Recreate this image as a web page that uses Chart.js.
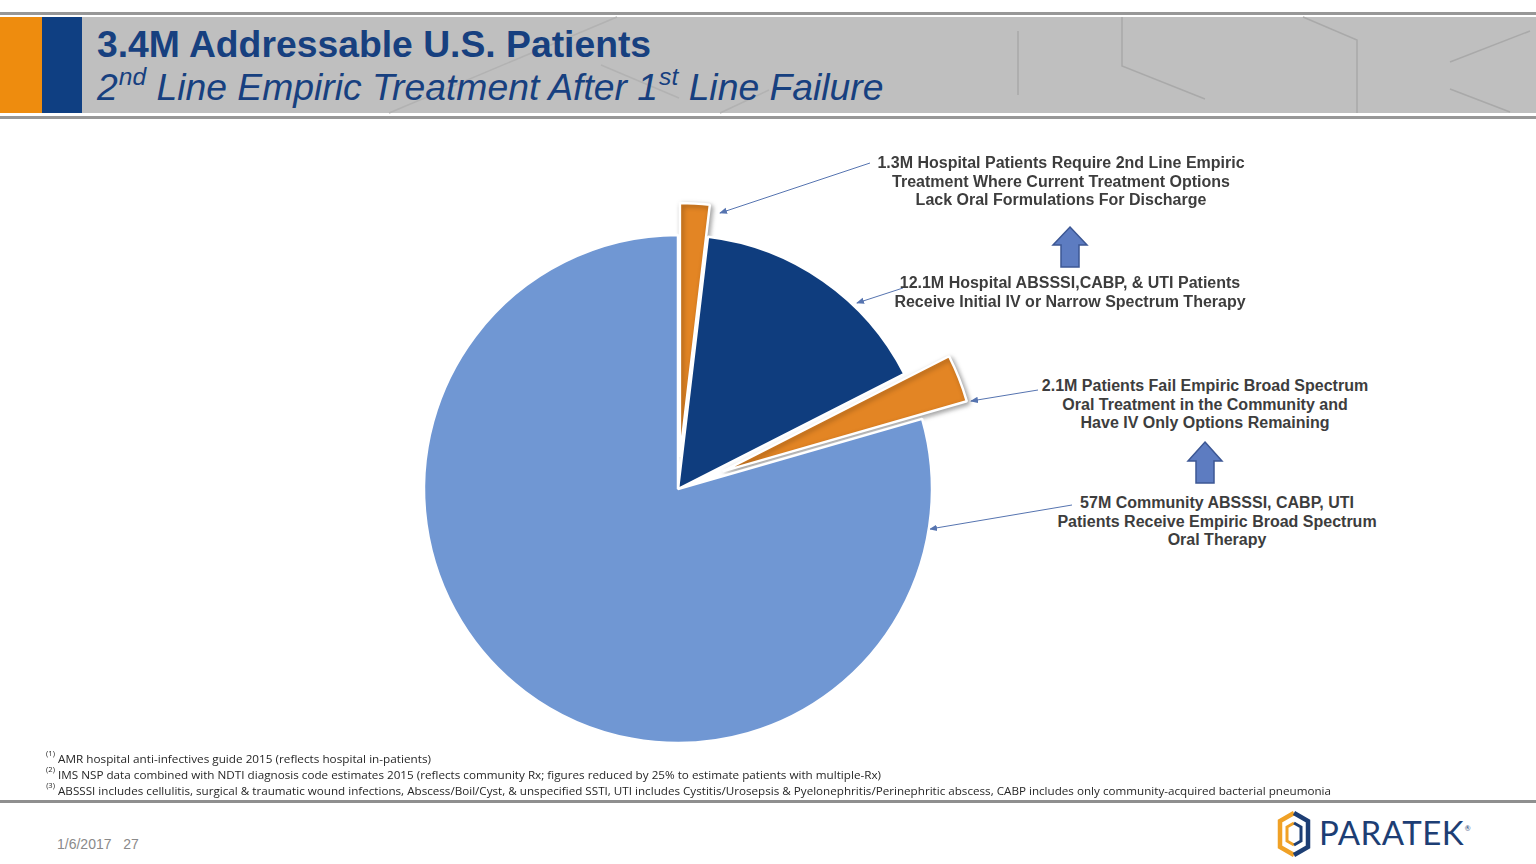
<!DOCTYPE html>
<html>
<head>
<meta charset="utf-8">
<script src="https://cdn.jsdelivr.net/npm/chart.js@4.4.1/dist/chart.umd.min.js"></script>
<style>
  html, body { margin:0; padding:0; width:1536px; height:864px; background:#fff; overflow:hidden; }
  body { position:relative; font-family:"Liberation Sans", Arial, sans-serif; }
  #deco { position:absolute; left:0; top:0; }
  #pieWrap { position:absolute; left:328px; top:139px; width:700px; height:700px; }
  .title { position:absolute; left:97px; color:#17407F; white-space:nowrap; }
  .t1 { top:22px; font-size:37.3px; font-weight:bold; line-height:44px; }
  .t2 { top:65px; font-size:37.3px; font-style:italic; line-height:44px; }
  .t2 sup { font-size:0.66em; vertical-align:0; position:relative; top:-0.62em; margin-left:1px; }
  .lbl { position:absolute; font-size:16px; font-weight:bold; color:#3D3D3D; text-align:center; line-height:18.6px; white-space:nowrap; transform:translateX(-50%); }
  .fn { position:absolute; left:58px; font-family:"Open Sans", sans-serif; font-size:10.8px; color:#262626; white-space:nowrap; transform-origin:0 0; }
  .fn sup { position:absolute; left:-11px; top:-2px; font-size:7px; }
  .foot { position:absolute; left:57px; top:836px; font-size:14px; color:#8A8A8A; white-space:pre; }
  .logo { position:absolute; left:1319px; top:813px; font-family:"Lato","Liberation Sans",sans-serif; font-size:33px; color:#1D3E74; letter-spacing:0.5px; line-height:38px; }
  .logo small { position:absolute; right:-7px; top:-4px; font-size:7px; }
</style>
</head>
<body>
<svg id="deco" width="1536" height="864">
  <rect x="0" y="12" width="1536" height="3" fill="#979797"/>
  <rect x="0" y="17" width="1536" height="96" fill="#BFBFBF"/>
  <rect x="0" y="116" width="1536" height="3" fill="#979797"/>
  <rect x="0" y="17" width="42" height="96" fill="#EE8C0E"/>
  <rect x="42" y="17" width="40" height="96" fill="#0F3F82"/>
  <g stroke="#A9A9A9" stroke-width="1.5" fill="none">
    <line x1="617" y1="17" x2="389" y2="113" stroke="#B2B2B2"/>
    <line x1="601" y1="65" x2="679" y2="98" stroke="#B2B2B2"/>
    <line x1="769" y1="90" x2="720" y2="113" stroke="#B2B2B2"/>
    <line x1="1018" y1="31" x2="1018" y2="95"/>
    <polyline points="1122,17 1122,66 1205,99"/>
    <polyline points="1303,17 1357,40 1357,113"/>
    <line x1="1450" y1="62" x2="1530" y2="31"/>
    <line x1="1450" y1="89" x2="1510" y2="112"/>
  </g>
  <defs>
    <marker id="ah" markerWidth="8" markerHeight="8" refX="7" refY="4" orient="auto" markerUnits="userSpaceOnUse">
      <path d="M0,0.8 L8,4 L0,7.2 Z" fill="#5674B0"/>
    </marker>
  </defs>
  <g stroke="#5674B0" stroke-width="1" fill="none">
    <line x1="870" y1="163" x2="720" y2="213" marker-end="url(#ah)"/>
    <line x1="903" y1="288" x2="857" y2="303" marker-end="url(#ah)"/>
    <line x1="1038" y1="390" x2="971" y2="401" marker-end="url(#ah)"/>
    <line x1="1072" y1="505" x2="930" y2="529" marker-end="url(#ah)"/>
  </g>
  <g fill="#5D7CC1" stroke="#3C5794" stroke-width="1.5">
    <path d="M1070,227 L1087,245 L1079,245 L1079,267 L1061,267 L1061,245 L1053,245 Z"/>
    <path d="M1205,442 L1222,461 L1214,461 L1214,483 L1196,483 L1196,461 L1188,461 Z"/>
  </g>
  <rect x="0" y="800" width="1536" height="3" fill="#8F8F8F"/>
  <g fill="none" stroke-width="4.5" stroke-linejoin="miter">
    <path d="M1294,813 L1280,821 L1280,847 L1294,855" stroke="#F0A126"/>
    <path d="M1294,813 L1308,821 L1308,847 L1294,855" stroke="#1D3E74"/>
    <path d="M1294,823 L1287,827 L1287,841 L1294,845" stroke="#F0A126" stroke-width="3"/>
    <path d="M1294,823 L1301,827 L1301,841 L1294,845" stroke="#1D3E74" stroke-width="3"/>
  </g>
</svg>

<div class="title t1">3.4M Addressable U.S. Patients</div>
<div class="title t2">2<sup>nd</sup> Line Empiric Treatment After 1<sup>st</sup> Line Failure</div>

<div id="pieWrap"><canvas id="pie" width="700" height="700"></canvas></div>

<div class="lbl" style="left:1061px; top:154px;">1.3M Hospital Patients Require 2nd Line Empiric<br>Treatment Where Current Treatment Options<br>Lack Oral Formulations For Discharge</div>
<div class="lbl" style="left:1070px; top:274px;">12.1M Hospital ABSSSI,CABP, &amp; UTI Patients<br>Receive Initial IV or Narrow Spectrum Therapy</div>
<div class="lbl" style="left:1205px; top:377px;">2.1M Patients Fail Empiric Broad Spectrum<br>Oral Treatment in the Community and<br>Have IV Only Options Remaining</div>
<div class="lbl" style="left:1217px; top:494px;">57M Community ABSSSI, CABP, UTI<br>Patients Receive Empiric Broad Spectrum<br>Oral Therapy</div>

<div class="fn" id="fn1" style="top:751px;"><sup>(1)</sup>AMR hospital anti-infectives guide 2015 (reflects hospital in-patients)</div>
<div class="fn" id="fn2" style="top:767px;"><sup>(2)</sup>IMS NSP data combined with NDTI diagnosis code estimates 2015 (reflects community Rx; figures reduced by 25% to estimate patients with multiple-Rx)</div>
<div class="fn" id="fn3" style="top:783px;"><sup>(3)</sup>ABSSSI includes cellulitis, surgical &amp; traumatic wound infections, Abscess/Boil/Cyst, &amp; unspecified SSTI, UTI includes Cystitis/Urosepsis &amp; Pyelonephritis/Perinephritic abscess, CABP includes only community-acquired bacterial pneumonia</div>

<div class="foot">1/6/2017   27</div>
<div class="logo">PARATEK<small>®</small></div>

<script>
// ---- data (millions of patients), slices clockwise from 12 o'clock ----
// 1.3M failing hospital patients are a subset of the 12.1M hospital patients,
// 2.1M failing community patients a subset of the 57M community patients.
const categories = [
  'Hospital: require 2nd line empiric treatment',
  'Hospital: other ABSSSI, CABP & UTI patients',
  'Community: fail empiric broad spectrum oral treatment',
  'Community: other ABSSSI, CABP, UTI patients'
];
const patientsMillions = [1.3, 10.8, 2.1, 54.9];
const sliceColors = ['#E38524', '#0F3D7E', '#E38524', '#7097D3'];

const fnTargets = { fn1: 373, fn2: 823, fn3: 1273 };
for (const id in fnTargets) {
  const el = document.getElementById(id);
  const w = el.getBoundingClientRect().width;
  el.style.transform = 'scaleX(' + (fnTargets[id] / w) + ')';
}

// Exploded slices: keep the slice's radius and angle (PowerPoint-style explode)
// and add a soft drop shadow.
const explodeStyle = {
  id: 'explodeStyle',
  beforeDatasetDraw(chart) {
    const meta = chart.getDatasetMeta(0);
    meta.data.forEach((arc) => {
      if (arc._origDraw) return;
      arc._origDraw = arc.draw;
      arc.draw = function (ctx) {
        const o = this.options.offset || 0;
        if (o <= 0) { this._origDraw(ctx); return; }
        const t = o / 4;
        const fix = 1 - Math.sin(Math.min(Math.PI, this.circumference || 0));
        const ro = t * fix;
        const R = this.outerRadius, s0 = this.startAngle, e0 = this.endAngle;
        const widen = ro / Math.PI / R / 2;
        this.outerRadius = R - ro;
        this.startAngle = s0 - widen;
        this.endAngle = e0 + widen;
        ctx.save();
        ctx.shadowColor = 'rgba(0,0,0,0.35)';
        ctx.shadowBlur = 5;
        ctx.shadowOffsetX = 2;
        ctx.shadowOffsetY = 2;
        this._origDraw(ctx);
        ctx.restore();
        this.outerRadius = R; this.startAngle = s0; this.endAngle = e0;
      };
    });
  }
};

new Chart(document.getElementById('pie'), {
  type: 'pie',
  data: {
    labels: categories,
    datasets: [{
      data: patientsMillions,
      backgroundColor: sliceColors,
      borderColor: '#FFFFFF',
      borderWidth: 2.5,
      offset: [128, 0, 192, 0]
    }]
  },
  options: {
    responsive: false,
    animation: false,
    radius: 254,
    layout: { padding: 0 },
    plugins: { legend: { display: false }, tooltip: { enabled: false } }
  },
  plugins: [explodeStyle]
});
</script>
</body>
</html>
